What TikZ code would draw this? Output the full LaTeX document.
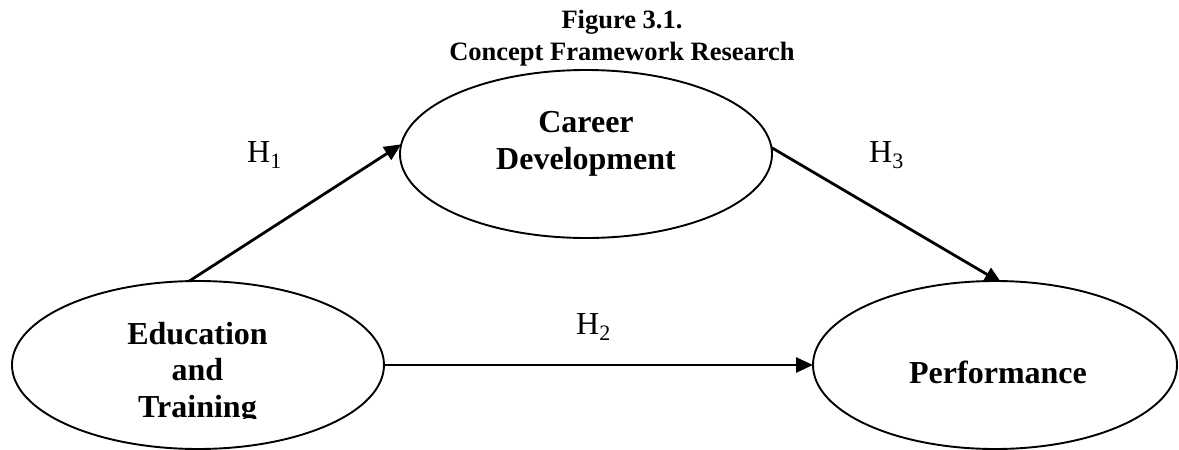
\documentclass[tikz,border=0pt]{standalone}
\usepackage{fontspec}
\setmainfont{Liberation Serif}
\usetikzlibrary{arrows.meta,shapes.geometric}
\pgfdeclarelayer{background}
\pgfsetlayers{background,main}
\newcommand\hyplabel[1]{H\raisebox{-6pt}{\fontsize{22}{22}\selectfont #1}}
\begin{document}
\begin{tikzpicture}[x=1pt,y=-1pt,
  var/.style={draw, line width=1.9pt, ellipse, fill=white, inner sep=0pt, outer sep=0pt},
  lbl/.style={font=\fontsize{32}{37}\selectfont\bfseries, align=center, inner sep=0pt},
  ttl/.style={font=\fontsize{26.5}{32}\selectfont\bfseries, align=center, inner sep=0pt},
  hyp/.style={font=\fontsize{32}{36}\selectfont, inner sep=0pt, anchor=base west},
  link/.style={line width=2.8pt, -{Triangle[length=17pt,width=15pt]}}]
\useasboundingbox (0,0) rectangle (1179,450);

% title (base anchor = baseline of last line)
\node[ttl, anchor=base] (title) at (622,60) {Figure 3.1.\\Concept Framework Research};

% ellipses
\node[var, minimum width=372pt, minimum height=168pt] (car) at (586,154) {};
\node[var, minimum width=372pt, minimum height=168pt] (edu) at (198,365) {};
\node[var, minimum width=364pt, minimum height=168pt] (perf) at (995,365) {};

% labels inside
\node[lbl, anchor=base] (cartxt) at (586,169) {Career\\Development};
\begin{scope}
  \clip (0,0) rectangle (1179,418);
  \node[lbl, anchor=base, font=\fontsize{32}{36.5}\selectfont\bfseries] (edutxt) at (197.5,417) {Education\\and\\Training};
\end{scope}
\node[lbl, anchor=base] (perftxt) at (998,383) {Performance};

% connectors
\coordinate (h3end) at (1001.6,283);
\begin{pgfonlayer}{background}
  \draw[link] (edu.96.8) -- (car.177.5);
  \draw[link] (edu.east) -- (perf.west);
  \draw[link] (car.2.8) -- (h3end);
\end{pgfonlayer}

% hypothesis labels
\node[hyp] (h1) at (247,162) {\hyplabel{1}};
\node[hyp] (h2) at (576,334) {\hyplabel{2}};
\node[hyp] (h3) at (869,162) {\hyplabel{3}};
\end{tikzpicture}
\end{document}
